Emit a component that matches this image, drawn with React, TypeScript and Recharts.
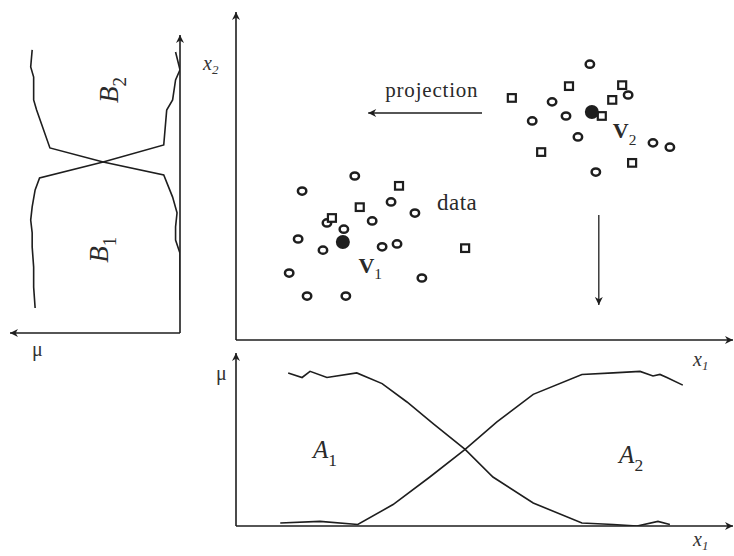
import { ScatterChart, Scatter, XAxis, YAxis, ReferenceLine } from "recharts"

const ink = "#1e1e1e"
const serif = "'Times New Roman', 'Liberation Serif', 'DejaVu Serif', serif"

// feature plane, x1 and x2 both on a 0..100 scale
const circlePoints = [
  { x1: 71.2, x2: 84.1 }, { x1: 78.9, x2: 74.7 }, { x1: 63.6, x2: 72.6 },
  { x1: 66.4, x2: 68.3 }, { x1: 59.6, x2: 66.8 }, { x1: 68.8, x2: 61.9 },
  { x1: 83.9, x2: 60.1 }, { x1: 87.3, x2: 58.8 }, { x1: 72.4, x2: 51.2 },
  { x1: 23.9, x2: 50.0 }, { x1: 13.3, x2: 45.4 }, { x1: 31.2, x2: 42.1 },
  { x1: 36.0, x2: 38.7 }, { x1: 18.3, x2: 35.7 }, { x1: 27.4, x2: 36.3 },
  { x1: 21.7, x2: 33.8 }, { x1: 12.5, x2: 30.8 }, { x1: 17.5, x2: 27.4 },
  { x1: 29.4, x2: 28.4 }, { x1: 32.4, x2: 29.3 }, { x1: 10.7, x2: 20.4 },
  { x1: 37.4, x2: 18.9 }, { x1: 14.3, x2: 13.4 }, { x1: 22.1, x2: 13.4 },
]
const squarePoints = [
  { x1: 67.0, x2: 77.4 }, { x1: 77.7, x2: 77.7 }, { x1: 55.5, x2: 73.8 },
  { x1: 75.7, x2: 73.2 }, { x1: 73.6, x2: 68.3 }, { x1: 61.4, x2: 57.3 },
  { x1: 79.7, x2: 54.0 }, { x1: 32.8, x2: 47.0 }, { x1: 24.9, x2: 40.5 },
  { x1: 19.3, x2: 37.2 }, { x1: 46.1, x2: 28.0 },
]
const centres = [
  { x1: 21.5, x2: 29.9 },
  { x1: 71.6, x2: 69.5 },
]
const planeLabels = [
  { x1: 39.4, x2: 74.0, text: "projection", size: 21, spacing: 0.8 },
  { x1: 44.5, x2: 39.6, text: "data", size: 23, spacing: 0.5 },
  { x1: 27.0, x2: 20.5, text: "V", sub: "1", size: 22, bold: true },
  { x1: 78.2, x2: 61.5, text: "V", sub: "2", size: 22, bold: true },
]

// membership over x1 (bottom panel)
const a1Curve = [
  { x1: 10.5, mu: 1.0 }, { x1: 13.3, mu: 0.97 }, { x1: 14.9, mu: 1.01 },
  { x1: 18.3, mu: 0.97 }, { x1: 24.3, mu: 1.0 }, { x1: 29.4, mu: 0.93 },
  { x1: 34.4, mu: 0.81 }, { x1: 39.6, mu: 0.67 }, { x1: 46.1, mu: 0.5 },
  { x1: 51.7, mu: 0.32 }, { x1: 59.8, mu: 0.15 }, { x1: 69.6, mu: 0.02 },
  { x1: 75.9, mu: 0.01 }, { x1: 80.7, mu: 0.0 }, { x1: 84.9, mu: 0.03 },
  { x1: 87.3, mu: 0.01 },
]
const a2Curve = [
  { x1: 8.9, mu: 0.02 }, { x1: 16.9, mu: 0.03 }, { x1: 24.5, mu: 0.01 },
  { x1: 31.6, mu: 0.14 }, { x1: 39.0, mu: 0.32 }, { x1: 46.1, mu: 0.5 },
  { x1: 52.5, mu: 0.68 }, { x1: 59.8, mu: 0.86 }, { x1: 69.6, mu: 0.99 },
  { x1: 75.9, mu: 1.0 }, { x1: 81.3, mu: 1.01 }, { x1: 83.9, mu: 0.98 },
  { x1: 85.3, mu: 0.99 }, { x1: 86.7, mu: 0.97 }, { x1: 89.9, mu: 0.92 },
]
const aLabels = [
  { x1: 17.9, mu: 0.444, text: "A", sub: "1", size: 25, italic: true },
  { x1: 79.5, mu: 0.41, text: "A", sub: "2", size: 25, italic: true },
]

// membership over x2 (left panel, mu grows to the left)
const b1Curve = [
  { mu: 0.03, x2: 94.3 }, { mu: 0.0, x2: 88.3 }, { mu: 0.03, x2: 84.9 },
  { mu: 0.05, x2: 78.2 }, { mu: 0.09, x2: 74.8 }, { mu: 0.11, x2: 63.1 },
  { mu: 0.52, x2: 57.4 }, { mu: 0.95, x2: 52.0 }, { mu: 0.98, x2: 48.0 },
  { mu: 1.0, x2: 42.3 }, { mu: 1.01, x2: 37.9 }, { mu: 1.0, x2: 33.6 },
  { mu: 1.0, x2: 28.9 }, { mu: 0.99, x2: 22.1 }, { mu: 0.99, x2: 15.4 },
  { mu: 0.98, x2: 8.4 },
]
const b2Curve = [
  { mu: 1.0, x2: 95.0 }, { mu: 1.01, x2: 89.3 }, { mu: 0.99, x2: 85.9 },
  { mu: 0.99, x2: 78.2 }, { mu: 0.97, x2: 74.8 }, { mu: 0.88, x2: 62.1 },
  { mu: 0.52, x2: 57.4 }, { mu: 0.11, x2: 53.0 }, { mu: 0.05, x2: 45.6 },
  { mu: 0.02, x2: 40.3 }, { mu: 0.03, x2: 35.6 }, { mu: 0.03, x2: 31.2 },
  { mu: 0.0, x2: 26.8 }, { mu: 0.0, x2: 16.8 }, { mu: 0.0, x2: 11.1 },
]
const bLabels = [
  { mu: 0.42, x2: 81.5, text: "B", sub: "2", size: 27, italic: true, rotate: true },
  { mu: 0.49, x2: 27.9, text: "B", sub: "1", size: 27, italic: true, rotate: true },
]

const Ring = (p: any) => (
  <ellipse cx={p.cx} cy={p.cy} rx={4.2} ry={3.6} fill="#fff" stroke={ink} strokeWidth={2.5} />
)
const Box = (p: any) => (
  <rect x={p.cx - 4} y={p.cy - 3.8} width={8} height={7.6} fill="#fff" stroke={ink} strokeWidth={2.2} />
)
const Dot = (p: any) => <circle cx={p.cx} cy={p.cy} r={7} fill={ink} />
const Nothing = () => <g />

const TextMark = (p: any) => {
  const { cx, cy, payload } = p
  const size = payload.size
  return (
    <text
      x={cx}
      y={cy}
      textAnchor="middle"
      fill="#2a2a2a"
      fontFamily={serif}
      fontSize={size}
      fontStyle={payload.italic ? "italic" : "normal"}
      fontWeight={payload.bold ? "bold" : "normal"}
      letterSpacing={payload.spacing || 0}
      transform={payload.rotate ? `rotate(-90 ${cx} ${cy})` : undefined}
    >
      {payload.text}
      {payload.sub && (
        <tspan dy={size * 0.3} fontSize={size * 0.7} fontStyle="normal" fontWeight="normal">
          {payload.sub}
        </tspan>
      )}
    </text>
  )
}

const Arrow = ({ id }: { id: string }) => (
  <defs>
    <marker
      id={id}
      viewBox="0 0 10 10"
      refX={10}
      refY={5}
      markerWidth={9}
      markerHeight={8}
      markerUnits="userSpaceOnUse"
      orient="auto-start-reverse"
    >
      <path d="M0,0 L10,5 L0,10 L3,5 z" fill={ink} />
    </marker>
  </defs>
)

const curve = { stroke: ink, strokeWidth: 1.6 }

const AxisText = ({ x, y, main, sub, italic }: any) => (
  <text x={x} y={y} fontFamily={serif} fontSize={20} fill="#333" fontStyle={italic ? "italic" : "normal"}>
    {main}
    {sub && (
      <tspan dy={4} fontSize={13}>
        {sub}
      </tspan>
    )}
  </text>
)

export default function App() {
  return (
    <div style={{ position: "absolute", left: 0, top: 0, width: 734, height: 556, background: "#fff" }}>
      <div style={{ position: "absolute", left: 226, top: 0 }}>
        <ScatterChart width={508} height={350} margin={{ top: 12, right: 1, bottom: 0, left: 0 }}>
          <Arrow id="ahMain" />
          <XAxis
            type="number"
            dataKey="x1"
            domain={[0, 100]}
            allowDataOverflow
            height={10}
            tick={false}
            tickLine={false}
            axisLine={{ stroke: ink, strokeWidth: 1.6, markerEnd: "url(#ahMain)" } as any}
          />
          <YAxis
            type="number"
            dataKey="x2"
            domain={[0, 100]}
            allowDataOverflow
            width={10}
            tick={false}
            tickLine={false}
            axisLine={{ stroke: ink, strokeWidth: 1.6, markerStart: "url(#ahMain)" } as any}
          />
          <ReferenceLine
            segment={[{ x: 49.5, y: 69.2 }, { x: 26.6, y: 69.2 }]}
            stroke={ink}
            strokeWidth={1.3}
            markerEnd="url(#ahMain)"
          />
          <ReferenceLine
            segment={[{ x: 73.0, y: 38.1 }, { x: 73.0, y: 10.7 }]}
            stroke={ink}
            strokeWidth={1.3}
            markerEnd="url(#ahMain)"
          />
          <Scatter data={circlePoints} shape={Ring} isAnimationActive={false} />
          <Scatter data={squarePoints} shape={Box} isAnimationActive={false} />
          <Scatter data={centres} shape={Dot} isAnimationActive={false} />
          <Scatter data={planeLabels} shape={TextMark} isAnimationActive={false} />
        </ScatterChart>
      </div>

      <div style={{ position: "absolute", left: 226, top: 345 }}>
        <ScatterChart width={508} height={191} margin={{ top: 8, right: 1, bottom: 0, left: 0 }}>
          <Arrow id="ahBottom" />
          <XAxis
            type="number"
            dataKey="x1"
            domain={[0, 100]}
            allowDataOverflow
            height={10}
            tick={false}
            tickLine={false}
            axisLine={{ stroke: ink, strokeWidth: 1.6, markerEnd: "url(#ahBottom)" } as any}
          />
          <YAxis
            type="number"
            dataKey="mu"
            domain={[0, 1.13]}
            allowDataOverflow
            width={10}
            tick={false}
            tickLine={false}
            axisLine={{ stroke: ink, strokeWidth: 1.6, markerStart: "url(#ahBottom)" } as any}
          />
          <Scatter data={a1Curve} line={curve} lineType="joint" shape={Nothing} isAnimationActive={false} />
          <Scatter data={a2Curve} line={curve} lineType="joint" shape={Nothing} isAnimationActive={false} />
          <Scatter data={aLabels} shape={TextMark} isAnimationActive={false} />
        </ScatterChart>
      </div>

      <div style={{ position: "absolute", left: 0, top: 25 }}>
        <ScatterChart width={190} height={318} margin={{ top: 10, right: 0, bottom: 0, left: 10 }}>
          <Arrow id="ahLeft" />
          <XAxis
            type="number"
            dataKey="mu"
            domain={[0, 1.15]}
            reversed
            allowDataOverflow
            height={10}
            tick={false}
            tickLine={false}
            axisLine={{ stroke: ink, strokeWidth: 1.6, markerStart: "url(#ahLeft)" } as any}
          />
          <YAxis
            type="number"
            dataKey="x2"
            orientation="right"
            domain={[0, 100]}
            allowDataOverflow
            width={10}
            tick={false}
            tickLine={false}
            axisLine={{ stroke: ink, strokeWidth: 1.6, markerStart: "url(#ahLeft)" } as any}
          />
          <Scatter data={b1Curve} line={curve} lineType="joint" shape={Nothing} isAnimationActive={false} />
          <Scatter data={b2Curve} line={curve} lineType="joint" shape={Nothing} isAnimationActive={false} />
          <Scatter data={bLabels} shape={TextMark} isAnimationActive={false} />
        </ScatterChart>
      </div>

      <svg width={734} height={556} style={{ position: "absolute", left: 0, top: 0, pointerEvents: "none" }}>
        <AxisText x={203} y={70} main="x" sub="2" italic />
        <AxisText x={693} y={366} main="x" sub="1" italic />
        <AxisText x={693} y={546} main="x" sub="1" italic />
        <AxisText x={216} y={380} main="μ" />
        <AxisText x={32} y={356} main="μ" />
      </svg>
    </div>
  )
}
